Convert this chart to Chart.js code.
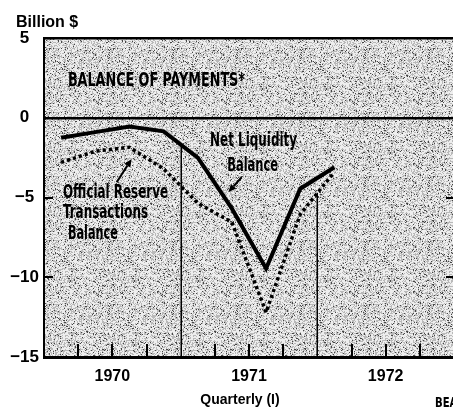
<!DOCTYPE html>
<html><head><meta charset="utf-8">
<script src="https://cdn.jsdelivr.net/npm/chart.js@4.4.1/dist/chart.umd.min.js"></script>
<style>html,body{margin:0;padding:0;background:#fff;overflow:hidden;width:453px;height:410px}canvas{display:block}</style>
</head><body><canvas id="c" width="470" height="410"></canvas>
<script>
// ---- data (billion $, quarterly, seasonally adjusted) ----
const quarters = ['1970 I','1970 II','1970 III','1970 IV','1971 I','1971 II','1971 III','1971 IV','1972 I'];
const netLiquidity = [-1.25, -0.9, -0.55, -0.85, -2.5, -5.7, -9.45, -4.45, -3.1];
const officialReserve = [-2.8, -2.1, -1.85, -3.2, -5.35, -6.55, -12.2, -6.05, -3.4];
const yearLabels = ['1970', '1971', '1972'];
const yTicks = [5, 0, -5, -10, -15];

const NARROW = '"DejaVu Sans Condensed","Liberation Sans",sans-serif';
const BOLD = '"Liberation Sans",Arial,sans-serif';

const notes = [
  {text: 'BALANCE OF PAYMENTS*', x: 0.70, y: 2.0, size: 20, w: 177},
  {text: 'Net Liquidity', x: 4.86, y: -1.75, size: 19, w: 87},
  {text: 'Balance', x: 5.36, y: -3.31, size: 19, w: 51},
  {text: 'Official Reserve', x: 0.556, y: -5.06, size: 19, w: 105},
  {text: 'Transactions', x: 0.556, y: -6.31, size: 19, w: 85},
  {text: 'Balance', x: 0.70, y: -7.63, size: 19, w: 50}
];
const arrows = [
  {from: [2.127, -4.04], to: [2.566, -2.58]},
  {from: [5.786, -3.73], to: [5.393, -4.67]}
];
const separators = [{q: 4, series: netLiquidity}, {q: 8, series: officialReserve}];

function fract(v) { return v - Math.floor(v); }
let pattern = null;
function getPattern(ctx) {
  if (pattern) return pattern;
  const n = 64, t = document.createElement('canvas');
  t.width = t.height = n;
  const g = t.getContext('2d'), img = g.createImageData(n, n);
  for (let y = 0; y < n; y++) for (let x = 0; x < n; x++) {
    const h = fract(Math.sin(x * 12.9898 + y * 78.233) * 43758.5453);
    const v = h < 0.08 ? 70 : (h < 0.48 ? 185 : 238);
    const k = (y * n + x) * 4;
    img.data[k] = img.data[k + 1] = img.data[k + 2] = v; img.data[k + 3] = 255;
  }
  g.putImageData(img, 0, 0);
  pattern = ctx.createPattern(t, 'repeat');
  return pattern;
}

const decor = {
  id: 'decor',
  beforeDraw(chart) {
    const {ctx, chartArea: a} = chart;
    ctx.save();
    ctx.fillStyle = '#fff';
    ctx.fillRect(0, 0, chart.width, chart.height);
    ctx.fillStyle = getPattern(ctx);
    ctx.fillRect(a.left, a.top, a.right - a.left, a.bottom - a.top);
    ctx.restore();
  },
  beforeDatasetsDraw(chart) {
    const {ctx, chartArea: a, scales: {x, y}} = chart;
    ctx.save();
    ctx.strokeStyle = '#000';
    ctx.lineWidth = 1.5;
    separators.forEach(s => {
      const v = (s.series[s.q - 1] + s.series[s.q]) / 2;
      const px = Math.round(x.getPixelForValue(s.q)) + 0.25;
      ctx.beginPath(); ctx.moveTo(px, a.bottom); ctx.lineTo(px, y.getPixelForValue(v)); ctx.stroke();
    });
    ctx.restore();
  },
  afterDatasetsDraw(chart) {
    const {ctx, chartArea: a, scales: {x, y}} = chart;
    ctx.save();
    ctx.strokeStyle = '#000'; ctx.fillStyle = '#000';
    ctx.lineWidth = 2;
    for (let q = 1; q < 12; q++) {
      if (q % 4 === 0) continue;
      const px = Math.round(x.getPixelForValue(q));
      ctx.beginPath(); ctx.moveTo(px, a.bottom); ctx.lineTo(px, a.bottom - 13); ctx.stroke();
    }
    [-5, -10].forEach(v => {
      const py = Math.round(y.getPixelForValue(v));
      ctx.beginPath(); ctx.moveTo(a.left, py); ctx.lineTo(a.left + 9, py); ctx.stroke();
      ctx.beginPath(); ctx.moveTo(a.right, py); ctx.lineTo(a.right - 8, py); ctx.stroke();
    });
    ctx.lineWidth = 2;
    arrows.forEach(ar => {
      const x0 = x.getPixelForValue(ar.from[0]), y0 = y.getPixelForValue(ar.from[1]);
      const x1 = x.getPixelForValue(ar.to[0]), y1 = y.getPixelForValue(ar.to[1]);
      const ang = Math.atan2(y1 - y0, x1 - x0), L = 8, W = 3.5;
      const bx = x1 - L * Math.cos(ang), by = y1 - L * Math.sin(ang);
      ctx.beginPath(); ctx.moveTo(x0, y0); ctx.lineTo(bx, by); ctx.stroke();
      ctx.beginPath();
      ctx.moveTo(x1, y1);
      ctx.lineTo(bx + W * Math.sin(ang), by - W * Math.cos(ang));
      ctx.lineTo(bx - W * Math.sin(ang), by + W * Math.cos(ang));
      ctx.closePath(); ctx.fill();
    });
    ctx.textBaseline = 'alphabetic'; ctx.textAlign = 'left';
    notes.forEach(n => {
      ctx.font = `bold ${n.size}px ${NARROW}`;
      const m = ctx.measureText(n.text).width;
      ctx.save();
      ctx.translate(x.getPixelForValue(n.x), y.getPixelForValue(n.y));
      ctx.scale(n.w / m, 1);
      ctx.fillText(n.text, 0, 0);
      ctx.restore();
    });
    ctx.font = `bold 16px ${BOLD}`;
    ctx.fillText('Billion $', 16, 27);
    ctx.font = `bold 14px ${BOLD}`;
    ctx.textAlign = 'center';
    ctx.fillText('Quarterly (I)', 240, 404);
    ctx.textAlign = 'left';
    ctx.font = `bold 14px ${NARROW}`;
    ctx.save();
    ctx.translate(435, 407);
    ctx.scale(0.8, 1);
    ctx.fillText('BEA', 0, 0);
    ctx.restore();
    ctx.restore();
  }
};

const toMinus = v => String(v).replace('-', '\u2212');

new Chart(document.getElementById('c'), {
  type: 'line',
  data: {
    datasets: [
      {
        label: 'Net Liquidity Balance',
        data: netLiquidity.map((v, i) => ({x: i + 0.5, y: v})),
        borderColor: '#000', borderWidth: 4, pointRadius: 0, tension: 0,
        borderJoinStyle: 'miter', fill: false
      },
      {
        label: 'Official Reserve Transactions Balance',
        data: officialReserve.map((v, i) => ({x: i + 0.5, y: v})),
        borderColor: '#000', borderWidth: 3.5, borderDash: [3.2, 3], pointRadius: 0, tension: 0,
        fill: false
      }
    ]
  },
  options: {
    responsive: false, animation: false, devicePixelRatio: 1,
    layout: {padding: {left: 0, top: 38, right: 16, bottom: 0}},
    plugins: {legend: {display: false}, tooltip: {enabled: false}},
    scales: {
      x: {
        type: 'linear', min: 0, max: 12,
        afterBuildTicks: s => { s.ticks = yearLabels.map((l, i) => ({value: 2 + 4 * i})); },
        afterFit: s => { s.height = 53; },
        ticks: {
          callback: (v, i) => yearLabels[i],
          font: {family: BOLD, weight: 'bold', size: 16}, color: '#000', padding: 10, maxRotation: 0, autoSkip: false
        },
        grid: {display: false, drawTicks: false},
        border: {display: true, color: '#000', width: 3}
      },
      y: {
        type: 'linear', min: -15, max: 5,
        afterBuildTicks: s => { s.ticks = yTicks.map(v => ({value: v})); },
        afterFit: s => { s.width = 44; },
        ticks: {
          callback: v => toMinus(v),
          font: {family: BOLD, weight: 'bold', size: 17}, color: '#000', padding: 5, crossAlign: 'center'
        },
        grid: {
          drawTicks: false,
          color: c => (c.tick && (c.tick.value === 0 || c.tick.value === 5)) ? '#000' : 'rgba(0,0,0,0)',
          lineWidth: 2.5
        },
        border: {display: true, color: '#000', width: 2}
      }
    }
  },
  plugins: [decor]
});
</script>
</body></html>
